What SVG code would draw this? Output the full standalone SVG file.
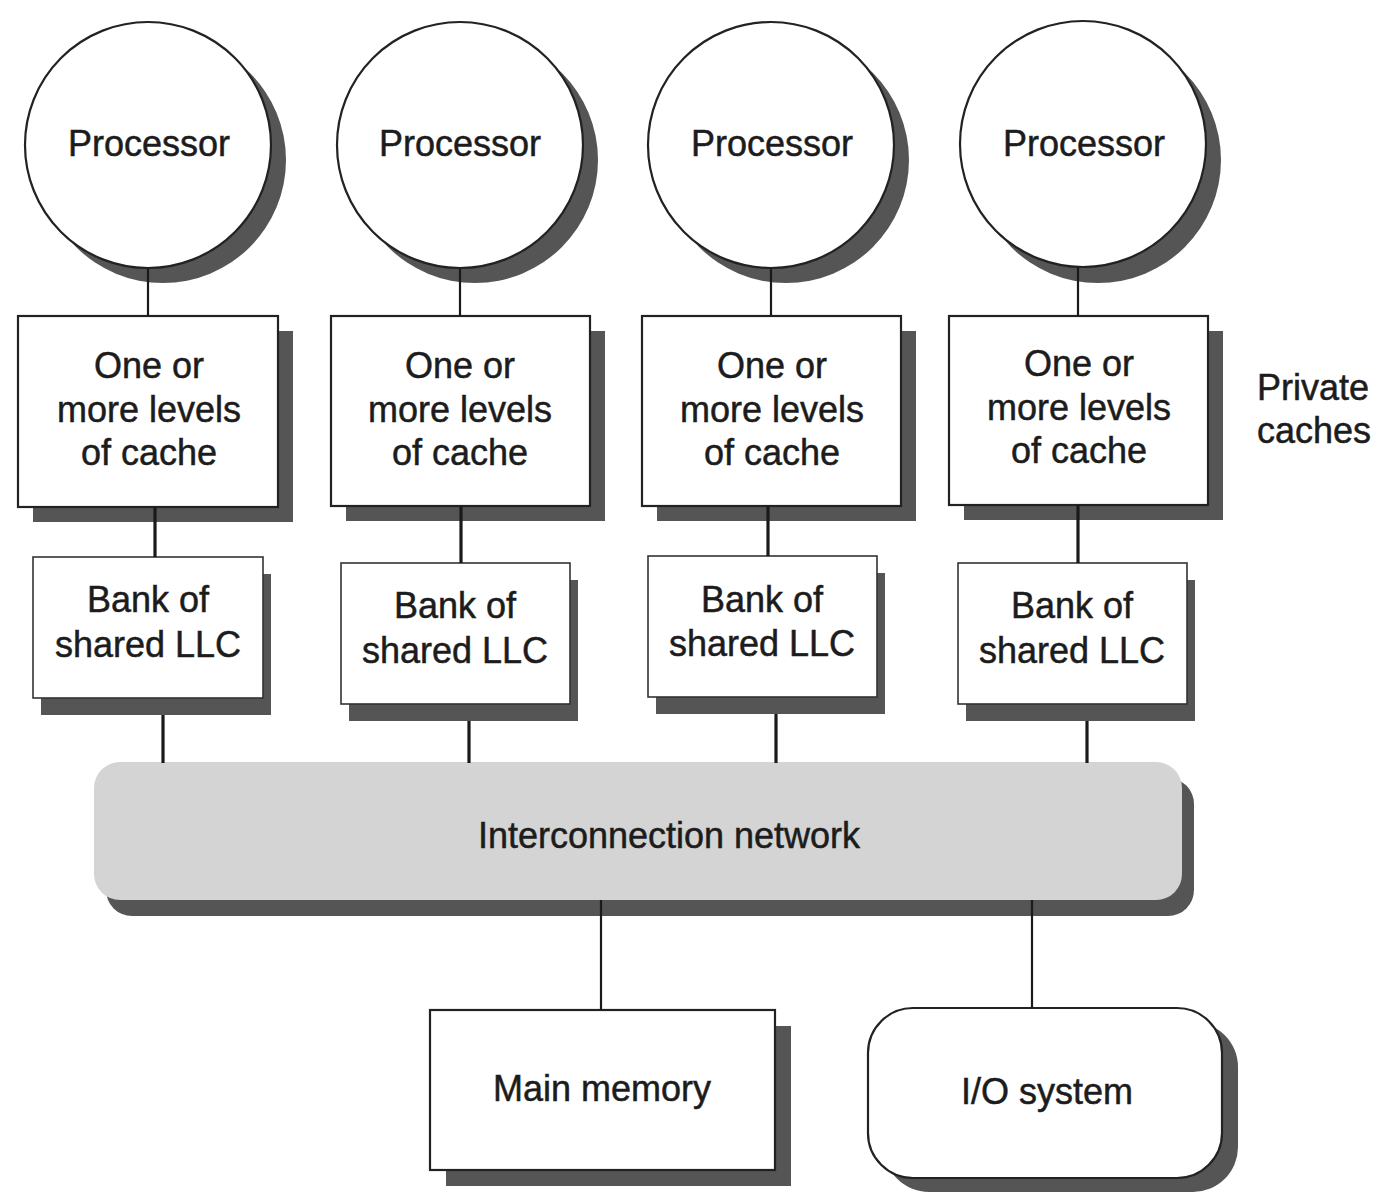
<svg xmlns="http://www.w3.org/2000/svg" width="1376" height="1192" viewBox="0 0 1376 1192">
<style>
  text { font-family: "Liberation Sans", Arial, Helvetica, sans-serif; font-size: 36px; fill: #1c1c1c; stroke: #1c1c1c; stroke-width: 0.5; text-anchor: middle; }
  .shadow { fill: #555555; stroke: none; }
  .node { fill: #ffffff; stroke: #222222; stroke-width: 2.2; }
  .bank { fill: #ffffff; stroke: #333333; stroke-width: 1.6; }
  .net { fill: #d4d4d4; stroke: none; }
  .conn { stroke: #1a1a1a; fill: none; }
  .thin { stroke-width: 2.2; }
  .thick { stroke-width: 3.2; }
</style>
<rect width="1376" height="1192" fill="#ffffff"/>

<!-- Processors -->
<g id="proc1">
  <circle class="shadow" cx="163" cy="160" r="123"/>
  <circle class="node" cx="148" cy="145" r="123"/>
  <text x="149" y="156">Processor</text>
</g>
<g id="proc2">
  <circle class="shadow" cx="475" cy="160" r="123"/>
  <circle class="node" cx="460" cy="145" r="123"/>
  <text x="460" y="156">Processor</text>
</g>
<g id="proc3">
  <circle class="shadow" cx="786" cy="160" r="123"/>
  <circle class="node" cx="771" cy="145" r="123"/>
  <text x="772" y="156">Processor</text>
</g>
<g id="proc4">
  <circle class="shadow" cx="1098" cy="160" r="123"/>
  <circle class="node" cx="1083" cy="144" r="123"/>
  <text x="1084" y="156">Processor</text>
</g>

<!-- Private caches -->
<g id="cache1">
  <rect class="shadow" x="33" y="331" width="260" height="191"/>
  <rect class="node" x="18" y="316" width="260" height="191"/>
  <text x="149" y="378">One or</text>
  <text x="149" y="422">more levels</text>
  <text x="149" y="465">of cache</text>
</g>
<g id="cache2">
  <rect class="shadow" x="346" y="331" width="259" height="190"/>
  <rect class="node" x="331" y="316" width="259" height="190"/>
  <text x="460" y="378">One or</text>
  <text x="460" y="422">more levels</text>
  <text x="460" y="465">of cache</text>
</g>
<g id="cache3">
  <rect class="shadow" x="657" y="331" width="259" height="190"/>
  <rect class="node" x="642" y="316" width="259" height="190"/>
  <text x="772" y="378">One or</text>
  <text x="772" y="422">more levels</text>
  <text x="772" y="465">of cache</text>
</g>
<g id="cache4">
  <rect class="shadow" x="964" y="331" width="259" height="189"/>
  <rect class="node" x="949" y="316" width="259" height="189"/>
  <text x="1079" y="376">One or</text>
  <text x="1079" y="420">more levels</text>
  <text x="1079" y="463">of cache</text>
</g>

<g id="private-caches-label">
  <text x="1257" y="400" style="text-anchor:start">Private</text>
  <text x="1257" y="443" style="text-anchor:start">caches</text>
</g>

<!-- Banks of shared LLC -->
<g id="bank1">
  <rect class="shadow" x="41" y="574" width="230" height="141"/>
  <rect class="bank" x="33" y="557" width="230" height="141"/>
  <text x="148" y="612">Bank of</text>
  <text x="148" y="657">shared LLC</text>
</g>
<g id="bank2">
  <rect class="shadow" x="349" y="580" width="229" height="141"/>
  <rect class="bank" x="341" y="563" width="229" height="141"/>
  <text x="455" y="618">Bank of</text>
  <text x="455" y="663">shared LLC</text>
</g>
<g id="bank3">
  <rect class="shadow" x="656" y="573" width="229" height="141"/>
  <rect class="bank" x="648" y="556" width="229" height="141"/>
  <text x="762" y="612">Bank of</text>
  <text x="762" y="656">shared LLC</text>
</g>
<g id="bank4">
  <rect class="shadow" x="966" y="580" width="229" height="141"/>
  <rect class="bank" x="958" y="563" width="229" height="141"/>
  <text x="1072" y="618">Bank of</text>
  <text x="1072" y="663">shared LLC</text>
</g>

<!-- Interconnection network -->
<g id="network">
  <rect class="shadow" x="106" y="778" width="1088" height="138" rx="26"/>
  <rect class="net" x="94" y="762" width="1088" height="138" rx="26"/>
  <text x="669" y="848">Interconnection network</text>
</g>

<!-- Main memory -->
<g id="main-memory">
  <rect class="shadow" x="446" y="1026" width="345" height="160"/>
  <rect class="node" x="430" y="1010" width="345" height="160"/>
  <text x="602" y="1101">Main memory</text>
</g>

<!-- I/O system -->
<g id="io-system">
  <rect class="shadow" x="884" y="1022" width="354" height="170" rx="45"/>
  <rect class="node" x="868" y="1008" width="354" height="170" rx="45"/>
  <text x="1047" y="1104">I/O system</text>
</g>

<!-- Connectors -->
<g id="connectors">
  <line class="conn thin" x1="148" y1="268" x2="148" y2="316"/>
  <line class="conn thin" x1="460" y1="268" x2="460" y2="316"/>
  <line class="conn thin" x1="771" y1="268" x2="771" y2="316"/>
  <line class="conn thin" x1="1078" y1="267" x2="1078" y2="316"/>

  <line class="conn thick" x1="155" y1="507" x2="155" y2="557"/>
  <line class="conn thick" x1="461" y1="506" x2="461" y2="563"/>
  <line class="conn thick" x1="768" y1="506" x2="768" y2="556"/>
  <line class="conn thick" x1="1078" y1="505" x2="1078" y2="563"/>

  <line class="conn thick" x1="163" y1="715" x2="163" y2="763"/>
  <line class="conn thick" x1="469" y1="721" x2="469" y2="763"/>
  <line class="conn thick" x1="776" y1="714" x2="776" y2="763"/>
  <line class="conn thick" x1="1087" y1="721" x2="1087" y2="763"/>

  <line class="conn thin" x1="601" y1="900" x2="601" y2="1010"/>
  <line class="conn thin" x1="1032" y1="900" x2="1032" y2="1008"/>
</g>
</svg>
